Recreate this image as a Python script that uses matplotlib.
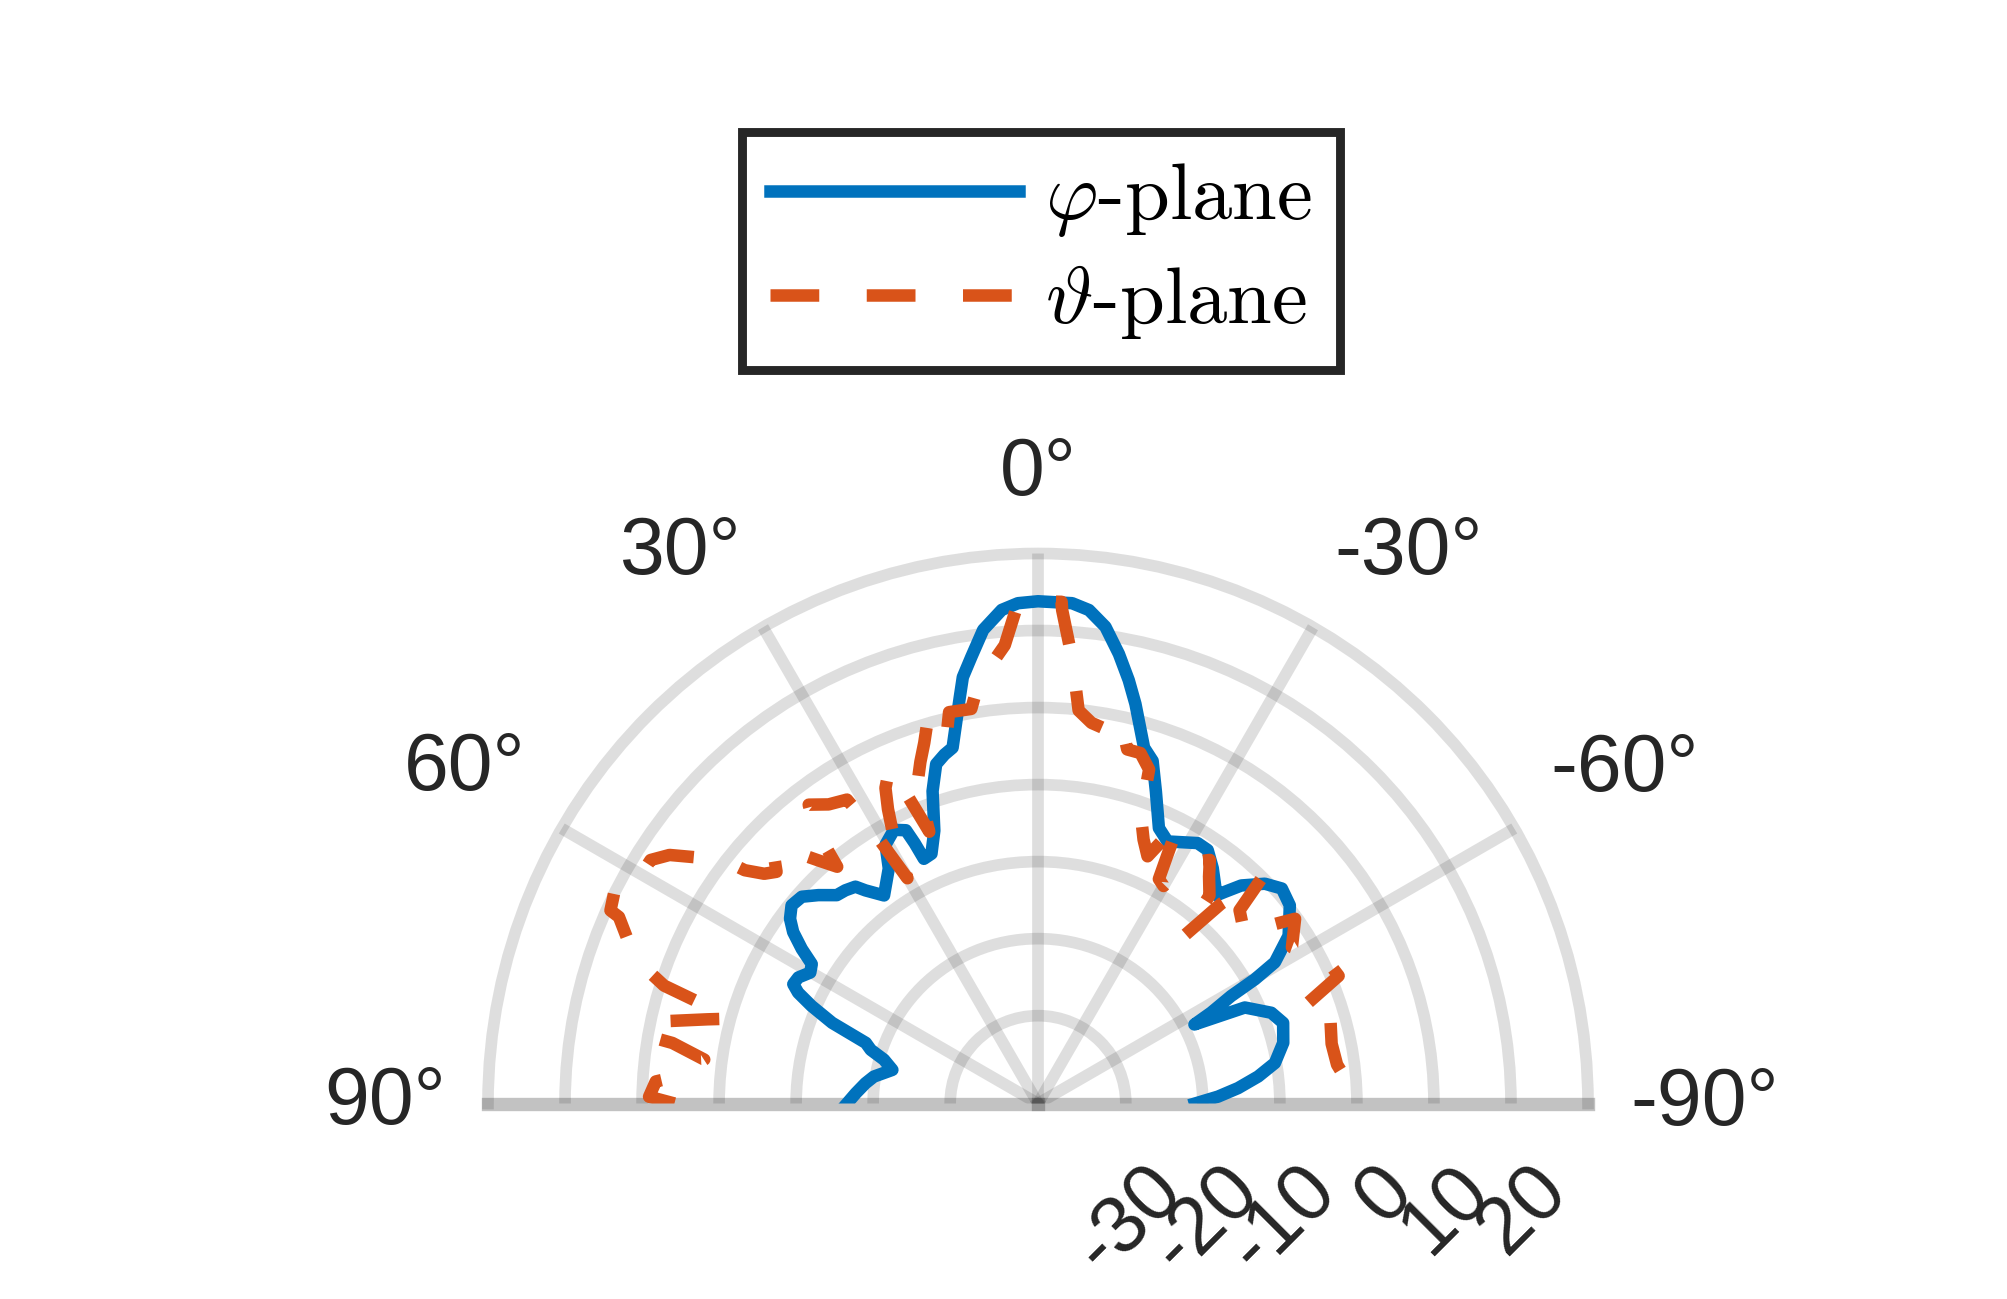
import numpy as np
import matplotlib as mpl
import matplotlib.pyplot as plt
import matplotlib.transforms as mtransforms
from matplotlib.lines import Line2D

mpl.rcParams['mathtext.fontset'] = 'cm'
mpl.rcParams['font.family'] = ['Liberation Sans', 'DejaVu Sans']

# phi-plane (solid blue), angle in degrees, gain in dB
theta_phi = [90.0, 86.8, 83.3, 80.7, 77.0, 74.1, 72.2, 70.6, 68.6, 66.7,
             65.2, 64.0, 62.25, 60.1, 58.35, 56.8, 55.0, 53.3, 51.2, 48.8,
             46.5, 44.0, 42.1, 40.1, 39.0, 36.5, 32.4, 30.5, 27.75, 25.8,
             25.35, 25.0, 23.1, 20.8, 18.65, 16.7, 15.0, 13.5, 12.2, 10.9,
             10.0, 8.5, 6.6, 4.2, 2.3, 0.0, -3.9, -5.9, -8.05, -10.2,
             -12.1, -13.7, -16.6, -18.5, -20.7, -23.7, -26.3, -31.5, -33.8, -36.6,
             -40.6, -41.4, -43.0, -45.9, -48.6, -51.8, -56.2, -59.2, -60.2, -60.9,
             -62.3, -63.2, -65.1, -68.75, -71.8, -76.1, -80.3, -83.0, -85.6, -87.8,
             -90.0]
gain_phi = [-16.6, -17.7, -18.85, -19.8, -22.0, -20.6, -18.6, -17.7, -12.7, -9.4,
            -7.1, -6.05, -6.25, -7.3, -6.9, -4.75, -2.6, -1.25, -0.35, -0.65,
            -2.1, -3.8, -4.1, -4.6, -5.8, -7.8, -5.25, -2.4, -1.25, -2.0,
            -4.0, -6.35, -6.15, -3.5, 1.4, 4.6, 5.5, 6.1, 9.0, 12.3,
            14.8, 17.2, 20.5, 22.85, 23.6, 23.8, 23.7, 23.0, 21.1, 17.9,
            14.8, 12.0, 6.8, 5.5, 1.9, -2.35, -3.45, -1.75, -1.8, -3.35,
            -5.8, -4.8, -2.7, -0.4, 0.8, 0.2, -2.25, -5.6, -8.95, -12.7,
            -16.0, -18.65, -11.8, -8.9, -7.9, -8.6, -10.2, -12.6, -15.35, -18.0,
            -21.0]

# theta-plane (dashed orange)
theta_theta = [90.0, 89.0, 86.7, 86.1, 84.3, 82.5, 80.6, 80.2, 78.1, 75.7,
               74.7, 73.6, 72.5, 71.0, 69.4, 66.0, 65.7, 63.0, 61.0, 59.4,
               57.85, 56.0, 54.0, 52.2, 51.5, 50.0, 48.45, 46.4, 44.4, 43.8,
               42.0, 40.3, 39.0, 37.5, 35.0, 32.15, 31.3, 30.1, 28.5, 27.0,
               25.8, 24.0, 23.05, 21.8, 20.7, 19.0, 17.5, 16.1, 14.2, 12.8,
               9.6, 8.2, 6.0, 4.15, 2.3, 0.0, -2.7, -2.8, -4.4, -5.9,
               -8.0, -10.2, -12.1, -14.15, -16.3, -18.4, -19.6, -21.8, -23.9, -25.75,
               -26.7, -27.5, -28.3, -30.0, -31.5, -33.0, -35.2, -37.0, -39.5, -41.0,
               -42.5, -44.8, -46.2, -50.9, -51.9, -54.3, -58.4, -61.2, -64.0, -67.0,
               -70.5, -74.6, -78.5, -82.6, -86.3, -90.0]
gain_theta = [5.8, 9.1, 8.3, 6.6, 4.0, 2.3, 6.7, 10.0, 10.0, 2.85,
              0.3, 3.5, 9.5, 12.5, 14.9, 18.15, 19.5, 20.2, 19.3, 18.05,
              18.0, 16.3, 12.9, 10.1, 7.25, 5.0, 3.95, 6.05, 4.95, 3.6,
              1.0, -1.1, 4.6, 7.5, 6.0, 5.2, 0.9, -7.6, -2.2, 1.5,
              4.1, 6.1, 2.4, -3.4, 2.9, 5.5, 7.7, 10.3, 7.2, 10.7,
              10.55, 13.4, 16.0, 18.25, 23.6, 23.8, 23.8, 22.75, 16.5, 9.9,
              8.5, 8.0, 9.65, 6.0, 6.0, 4.3, -1.6, -4.5, -6.3, -2.7,
              -0.65, -5.0, -8.3, -8.8, -5.1, -4.0, -2.7, -4.5, -6.4, -12.8,
              -6.2, -0.2, -5.15, -6.8, -4.3, -0.3, -2.7, -1.1, 0.5, 1.0,
              -5.5, -2.0, -2.5, -2.25, -1.0, -0.9]

theta_ticks = [90, 60, 30, 0, -30, -60, -90]
r_ticks = [-30, -20, -10, 0, 10, 20]
r_min, r_max = -41.4, 30
legend_labels = [r'$\varphi\text{-plane}$', r'$\vartheta\text{-plane}$']

blue = '#0072BD'
orange = '#D95319'
gray = (0.15, 0.15, 0.15)
txt = '#262626'

W, H, DPI = 2008, 1299, 200
fig = plt.figure(figsize=(W / DPI, H / DPI), dpi=DPI)
# the half-disk wedge is fitted inside a square axes box, centred on it
cx, cy, R = 1038, 1103.5, 550
ax = fig.add_axes([(cx - R) / W, (H - cy - 0.5 * R) / H, 2 * R / W, 2 * R / H],
                  projection='polar')
ax.set_theta_zero_location('N')
ax.set_theta_direction(1)
ax.set_thetamin(-90)
ax.set_thetamax(90)
ax.set_rlim(r_min, r_max)

# grid: inner spokes and rings, edges drawn with the spines
glw = 4.2
ax.set_thetagrids([t for t in theta_ticks if abs(t) < 90], labels=[''] * 5)
ax.set_rgrids(r_ticks, labels=[''] * len(r_ticks))
ax.tick_params(length=0)
ax.grid(True, color=gray, alpha=0.15, linewidth=glw)
ax.spines['polar'].set_edgecolor(gray + (0.15,))
ax.spines['polar'].set_linewidth(glw)
for s in ['start', 'end']:
    ax.spines[s].set_edgecolor(gray + (0.28,))
    ax.spines[s].set_linewidth(glw + 0.6)
ax.spines['inner'].set_visible(False)

lw = 4.5
dash = (0, (3.9, 3.8))
ax.plot(np.deg2rad(theta_phi), gain_phi, color=blue, lw=lw, zorder=3,
        solid_joinstyle='round')
ax.plot(np.deg2rad(theta_theta), gain_theta, color=orange, lw=lw, zorder=3,
        linestyle=dash, dash_capstyle='butt')

# theta labels
px_per_db = R / (r_max - r_min)
r_lab = r_max + 42 / px_per_db
for t in theta_ticks:
    ha = 'center' if t == 0 else ('right' if t > 0 else 'left')
    va = 'center' if abs(t) == 90 else 'bottom'
    ax.text(np.deg2rad(t), r_lab, f'{t}°', ha=ha, va=va, fontsize=29,
            color=txt, clip_on=False)

# r labels along the right edge
off = mtransforms.ScaledTranslation(44 / DPI, -75 / DPI, fig.dpi_scale_trans)
for r in r_ticks:
    ax.text(np.deg2rad(-90), r, str(r), rotation=45, rotation_mode='anchor',
            ha='right', va='center', fontsize=29, color=txt,
            transform=ax.transData + off, clip_on=False)

handles = [Line2D([], [], color=blue, lw=lw),
           Line2D([], [], color=orange, lw=lw, linestyle=dash)]
leg = ax.legend(handles, legend_labels, loc='upper center',
                bbox_to_anchor=(1041 / W, 1 - 132 / H), bbox_transform=fig.transFigure,
                prop={'size': 29}, fancybox=False, framealpha=1,
                edgecolor=txt, handlelength=3.1, handletextpad=0.32,
                borderpad=0.35, labelspacing=0.3, borderaxespad=0)
leg.get_frame().set_linewidth(3.2)

fig.savefig('out.png', dpi=DPI, facecolor='white')
